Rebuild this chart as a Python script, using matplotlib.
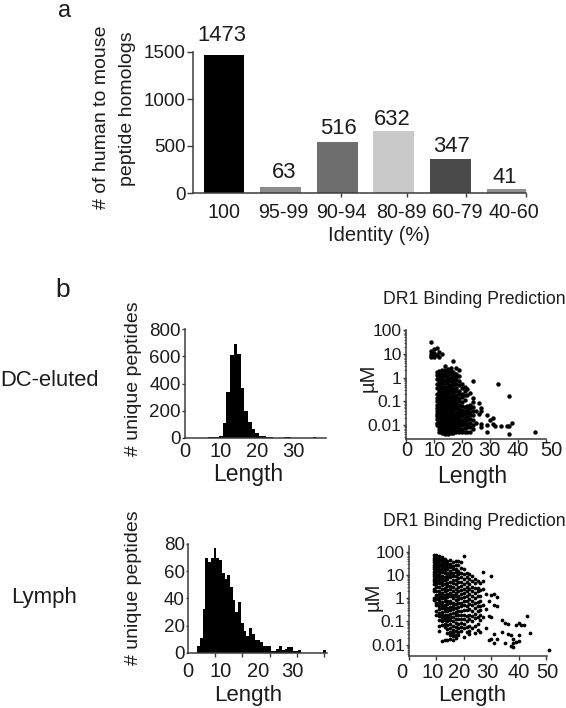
import matplotlib
matplotlib.use("Agg")
import matplotlib.pyplot as plt
from matplotlib.ticker import FixedLocator, FixedFormatter, NullFormatter

plt.rcParams['font.family'] = ['Liberation Sans', 'DejaVu Sans']

# ---------- panel a ----------
identity = ['100', '95-99', '90-94', '80-89', '60-79', '40-60']
homolog_labels = [1473, 63, 516, 632, 347, 41]
homolog_drawn = [1473, 66, 545, 660, 362, 43]
bar_colors = ['#000000', '#8c8c8c', '#6e6e6e', '#c9c9c9', '#4a4a4a', '#8f8f8f']

# ---------- panel b histograms ----------
dc_hist_len = [7, 8, 9, 10, 11, 12, 13, 14, 15, 16, 17, 18, 19, 20, 21, 22, 23, 24, 25, 26, 27, 28, 29, 30, 31, 36]
dc_hist_cnt = [4, 5, 6, 18, 108, 335, 610, 690, 620, 365, 195, 115, 65, 35, 18, 15, 8, 4, 2, 3, 2, 4, 4, 3, 1, 4]
ly_hist_len = [3, 4, 5, 6, 7, 8, 9, 10, 11, 12, 13, 14, 15, 16, 17, 18, 19, 20, 21, 22, 23, 24, 25, 26, 27, 28, 29, 30, 31, 32, 33, 34, 35, 36, 37, 38, 39, 40, 41, 50]
ly_hist_cnt = [0, 5, 11, 32, 70, 67, 70, 77, 70, 68, 59, 54, 57, 48, 39, 30, 37, 22, 16, 12, 18, 14, 9, 9, 8, 5, 5, 5, 1, 1, 3, 5, 2, 3, 4, 4, 1, 1, 2, 2]

# ---------- panel b scatter: log10(uM) by peptide length ----------
dc_len = list(range(9, 25))
dc_log = [
    [1.52, 1.13, 1.0, 0.92, 0.86],
    [1.22, 1.05, 0.95, 0.85],
    [1.25, 0.95, 0.22, 0.12, -0.05, -0.28, -0.42, -0.7, -0.86, -1.0, -1.15, -1.28, -1.4, -1.52, -1.63, -1.75, -1.9, -2.02],
    [1.1, 0.86, 0.28, 0.18, 0.05, -0.08, -0.2, -0.33, -0.45, -0.58, -0.7, -0.82, -0.95, -1.08, -1.2, -1.32, -1.45, -1.55, -1.68, -1.8, -1.92, -2.05, -2.18, -2.28],
    [1.0, 0.3, 0.16, 0.02, -0.12, -0.22, -0.35, -0.5, -0.62, -0.75, -0.88, -1.0, -1.12, -1.24, -1.36, -1.48, -1.6, -1.72, -1.84, -1.96, -2.08, -2.2, -2.33],
    [0.5, 0.3, 0.18, 0.05, -0.1, -0.22, -0.38, -0.5, -0.62, -0.72, -0.85, -0.98, -1.1, -1.22, -1.34, -1.46, -1.58, -1.7, -1.82, -1.94, -2.06, -2.18, -2.3, -2.38],
    [0.35, 0.22, 0.1, -0.02, -0.14, -0.26, -0.38, -0.5, -0.62, -0.74, -0.86, -0.98, -1.1, -1.22, -1.34, -1.46, -1.58, -1.7, -1.82, -1.94, -2.06, -2.18, -2.3, -2.38],
    [0.42, 0.28, 0.15, 0.0, -0.14, -0.3, -0.42, -0.55, -0.66, -0.8, -0.92, -1.04, -1.16, -1.28, -1.4, -1.52, -1.64, -1.76, -1.88, -2.0, -2.12, -2.24, -2.36],
    [0.68, 0.25, 0.1, -0.05, -0.18, -0.3, -0.48, -0.6, -0.72, -0.84, -0.96, -1.08, -1.2, -1.32, -1.44, -1.56, -1.68, -1.8, -1.92, -2.04, -2.16, -2.28, -2.36],
    [0.4, 0.16, 0.03, -0.12, -0.25, -0.45, -0.58, -0.72, -0.85, -0.98, -1.1, -1.22, -1.34, -1.48, -1.6, -1.72, -1.84, -1.96, -2.08, -2.2, -2.3],
    [0.3, 0.05, -0.15, -0.32, -0.55, -0.7, -0.85, -1.0, -1.15, -1.28, -1.42, -1.55, -1.68, -1.8, -1.93, -2.05, -2.18, -2.3],
    [-0.28, -0.45, -0.68, -0.82, -1.02, -1.2, -1.38, -1.5, -1.62, -1.78, -1.9, -2.02, -2.15, -2.28],
    [-0.4, -0.55, -0.75, -0.95, -1.25, -1.42, -1.55, -1.7, -1.85, -1.98, -2.12, -2.28],
    [-0.5, -0.72, -1.2, -1.36, -1.5, -1.66, -1.8, -1.95, -2.1, -2.28],
    [-0.65, -1.15, -1.3, -1.45, -1.6, -1.75, -1.92, -2.1, -2.28],
    [-0.13, -0.85, -1.05, -1.25, -1.42, -1.6, -1.78, -2.02, -2.18],
]
dc_sparse_len = [25, 25, 26, 26, 27, 27, 27, 27, 29, 29, 29, 30, 31, 31, 32, 33, 34, 36, 37, 37, 37, 38, 46]
dc_sparse_log = [-1.4, -1.9, -1.08, -1.55, -1.28, -1.42, -1.98, -2.1, -1.6, -2.0, -2.3, -1.8, -1.7, -1.95, -2.05, -0.25, -2.05, -2.05, -2.05, -2.4, -0.77, -1.9, -2.3]

ly_len = list(range(9, 27))
ly_log = [
    [1.85, 1.75, 1.65, 1.55, 1.45, 1.35, 1.25, 1.15, 1.05, 0.95, 0.85, 0.75, 0.62, 0.4, 0.32, 0.0, -0.08],
    [1.85, 1.76, 1.66, 1.56, 1.46, 1.36, 1.26, 1.16, 1.06, 0.96, 0.86, 0.74, 0.6, 0.5, 0.3, 0.15, 0.05, -0.05, -0.2, -0.3, -0.55, -0.72],
    [1.82, 1.72, 1.6, 1.48, 1.38, 1.28, 1.18, 1.05, 0.92, 0.8, 0.65, 0.48, 0.3, 0.18, 0.05, -0.08, -0.2, -0.35, -0.48, -0.62, -0.78, -0.95, -1.2, -1.4],
    [1.78, 1.7, 1.6, 1.5, 1.38, 1.25, 1.12, 0.98, 0.85, 0.7, 0.58, 0.42, 0.25, 0.12, 0.0, -0.15, -0.3, -0.42, -0.58, -0.72, -0.85, -1.0, -1.15, -1.85],
    [1.68, 1.58, 1.48, 1.36, 1.22, 1.08, 0.92, 0.78, 0.6, 0.45, 0.3, 0.15, 0.02, -0.1, -0.28, -0.4, -0.55, -0.7, -0.82, -0.95, -1.1, -1.25, -1.8],
    [1.6, 1.5, 1.38, 1.25, 1.1, 0.95, 0.82, 0.65, 0.52, 0.35, 0.18, 0.05, -0.12, -0.25, -0.42, -0.55, -0.7, -0.85, -1.0, -1.15, -1.32, -1.48, -1.82],
    [1.65, 1.5, 1.35, 1.2, 1.05, 0.9, 0.72, 0.55, 0.4, 0.22, 0.08, -0.1, -0.22, -0.38, -0.52, -0.68, -0.82, -0.95, -1.1, -1.3, -1.45, -1.6, -1.75],
    [1.55, 1.4, 1.25, 1.1, 0.95, 0.8, 0.65, 0.48, 0.32, 0.15, 0.0, -0.18, -0.32, -0.48, -0.65, -0.8, -1.0, -1.18, -1.35, -1.5, -1.62, -1.78],
    [1.62, 1.45, 1.28, 1.12, 0.95, 0.78, 0.6, 0.42, 0.25, 0.1, -0.08, -0.25, -0.4, -0.58, -0.72, -0.9, -1.08, -1.25, -1.42, -1.58, -1.7],
    [1.6, 1.42, 1.2, 1.05, 0.88, 0.7, 0.5, 0.32, 0.12, -0.05, -0.2, -0.38, -0.55, -0.72, -0.9, -1.1, -1.3, -1.45, -1.6],
    [1.55, 1.3, 1.1, 0.9, 0.72, 0.55, 0.35, 0.18, 0.02, -0.18, -0.35, -0.55, -0.7, -0.88, -1.05, -1.22, -1.42],
    [1.82, 1.25, 1.05, 0.85, 0.62, 0.42, 0.25, 0.05, -0.12, -0.3, -0.5, -0.72, -0.9, -1.1, -1.3, -1.68],
    [1.1, 0.9, 0.7, 0.5, 0.3, 0.1, -0.1, -0.32, -0.52, -0.78, -1.0, -1.25, -1.45],
    [1.05, 0.82, 0.62, 0.4, 0.18, -0.02, -0.25, -0.45, -0.7, -0.9, -1.2, -1.4, -1.55],
    [0.95, 0.75, 0.5, 0.32, 0.12, -0.1, -0.3, -0.55, -0.75, -0.98, -1.3],
    [0.85, 0.68, 0.45, 0.22, 0.02, -0.2, -0.42, -0.68, -0.85, -1.2, -1.5],
    [0.75, 0.45, 0.3, 0.08, -0.15, -0.35, -0.55, -0.8, -1.1, -1.35],
    [0.65, 0.35, 0.1, -0.12, -0.32, -0.52, -0.72, -0.95, -1.45],
]
ly_sparse_len = [27, 27, 27, 27, 27, 28, 28, 28, 29, 29, 29, 30, 30, 30, 30, 31, 31, 31, 31, 32, 32, 32, 34, 34, 35, 35, 36, 36, 37, 37, 38, 38, 38, 39, 39, 40, 40, 40, 41, 42, 43, 44, 51]
ly_sparse_log = [1.15, 0.75, 0.4, -0.3, -0.8, 0.2, -0.45, -1.3, -0.1, -0.75, -1.78, 0.95, 0.15, -0.8, -1.75, 0.2, -0.3, -1.55, -1.95, 0.05, -0.35, -1.75, -0.95, -1.45, -1.05, -1.95, -1.1, -1.55, -1.6, -2.05, -1.75, -2.1, -1.95, -1.15, -1.9, -1.05, -1.6, -1.85, -1.15, -1.15, -0.75, -1.5, -2.25]

FW, FH = 566, 708
fig = plt.figure(figsize=(FW / 100, FH / 100), dpi=100, facecolor='white')
INK = '#1c1c1c'


def px_axes(left, top, right, bottom):
    ax = fig.add_axes([left / FW, 1 - bottom / FH, (right - left) / FW, (bottom - top) / FH])
    for s in ('top', 'right'):
        ax.spines[s].set_visible(False)
    for s in ('left', 'bottom'):
        ax.spines[s].set_linewidth(1.1)
        ax.spines[s].set_color('#3c3c3c')
    ax.patch.set_alpha(0)
    return ax


def label(x, y, s, size=13.5, rot=0, ha='center'):
    fig.text(x / FW, 1 - y / FH, s, fontsize=size, rotation=rot, ha=ha, va='center', color=INK)


def ticks(ax, major, names, minor, size=13.5, pad=2):
    ax.xaxis.set_major_locator(FixedLocator(major))
    ax.xaxis.set_major_formatter(FixedFormatter(names))
    ax.xaxis.set_minor_locator(FixedLocator(minor))
    ax.tick_params(axis='x', which='major', length=0, pad=pad + 3, labelsize=size, labelcolor=INK)
    ax.tick_params(axis='x', which='minor', length=3.2, width=1.0, color='#3c3c3c')


# panel a
ax = px_axes(193, 45, 526, 193)
pos = list(range(len(identity)))
ax.bar(pos, homolog_drawn, width=0.72, color=bar_colors, edgecolor='none')
ax.set_xlim(-0.548, 5.336)
ax.set_ylim(0, 1500 * 148 / 141)
ax.spines['left'].set_bounds(0, 1500)
ax.set_yticks([0, 500, 1000, 1500])
ax.tick_params(axis='y', length=4.5, width=1.0, labelsize=13.5, pad=1, color='#3c3c3c', labelcolor=INK)
ticks(ax, [0, 1.04, 2.07, 3.13, 4.13, 5.12], identity, [0, 1.04, 2.06, 3.23, 4.28, 5.33], size=14.2, pad=4.5)
label_shift_x = [-0.03, 0.06, 0.02, -0.02, 0.02, -0.04]
label_gap_pt = [6, 2.5, 2, 0.5, 1.5, 0.5]
for p, h, t, dx, g in zip(pos, homolog_drawn, homolog_labels, label_shift_x, label_gap_pt):
    ax.annotate(str(t), (p + dx, h), xytext=(0, g), textcoords='offset points',
                ha='center', va='bottom', fontsize=15.8, color=INK)

label(101, 117, '# of human to mouse', 14, 90)
label(128, 109, 'peptide homologs', 14, 90)
label(379, 235, 'Identity (%)', 14.5)
label(65, 11, 'a', 17)
label(63, 290, 'b', 19)

# DC histogram
ax = px_axes(185, 329, 326, 438)
ax.bar(dc_hist_len, dc_hist_cnt, width=1.0, color='black', edgecolor='none')
ax.set_xlim(0, 39.2)
ax.set_ylim(0, 800)
ax.set_yticks([0, 200, 400, 600, 800])
ax.tick_params(axis='y', length=2.5, width=1.0, labelsize=13.5, pad=0.5, color='#3c3c3c', labelcolor=INK)
ticks(ax, [0, 10, 20, 30], ['0', '10', '20', '30'], [0, 10, 20, 30], size=14.5, pad=0)

# Lymph histogram
ax = px_axes(187.7, 544, 327, 652.7)
ax.bar(ly_hist_len, ly_hist_cnt, width=1.0, color='black', edgecolor='none')
ax.set_xlim(0, 51)
ax.set_ylim(0, 80)
ax.set_yticks([0, 20, 40, 60, 80])
ax.tick_params(axis='y', length=1.5, width=1.0, labelsize=13.5, pad=0.5, color='#3c3c3c', labelcolor=INK)
ticks(ax, [0, 12.2, 25.9, 38.4], ['0', '10', '20', '30'], [0, 10, 20, 30, 40, 50], size=14.5, pad=4)


def scatter(box, lens, logs, s_len, s_log, ylim, xmax, text_x, text_y_px, ms):
    ax = px_axes(*box)
    xs, ys = [], []
    for L, col in zip(lens, logs):
        xs += [L] * len(col)
        ys += [10 ** v for v in col]
    xs += s_len
    ys += [10 ** v for v in s_log]
    ax.plot(xs, ys, 'o', ms=ms, mfc='black', mec='none', clip_on=False)
    ax.set_yscale('log')
    ax.set_ylim(10 ** ylim[0], 10 ** ylim[1])
    ax.set_xlim(0, xmax)
    ax.yaxis.set_major_locator(FixedLocator([0.01, 0.1, 1, 10, 100]))
    ax.yaxis.set_major_formatter(FixedFormatter(['0.01', '0.1', '1', '10', '100']))
    ax.yaxis.set_minor_locator(FixedLocator(
        [m * 10.0 ** e for e in range(-3, 2) for m in (2, 3, 4, 5, 6, 7, 8, 9)]))
    ax.yaxis.set_minor_formatter(NullFormatter())
    ax.tick_params(axis='y', which='major', length=2.5, width=1.0, labelsize=12.6, pad=0.5,
                   color='#3c3c3c', labelcolor=INK)
    ax.tick_params(axis='y', which='minor', length=1.3, width=0.7, color='#555555')
    ax.xaxis.set_major_locator(FixedLocator([0, 10, 20, 30, 40, 50]))
    ax.xaxis.set_major_formatter(NullFormatter())
    ax.tick_params(axis='x', which='major', length=3.2, width=1.0, color='#3c3c3c')
    for x, name in zip(text_x, ['0', '10', '20', '30', '40', '50']):
        ax.annotate(name, (x, 0), xycoords=('data', 'axes fraction'),
                    xytext=(x, text_y_px), textcoords=('data', 'offset pixels'),
                    ha='center', va='center', fontsize=14.5, color=INK, annotation_clip=False)
    return ax


scatter((405.7, 330, 545.7, 438.7), dc_len, dc_log, dc_sparse_len, dc_sparse_log,
        (-2.58, 2.01), 50, [0.5, 10.3, 20, 30, 40, 52.2], -12, 3.2)
scatter((409, 546, 547, 656), ly_len, ly_log, ly_sparse_len, ly_sparse_log,
        (-2.49, 2.26), 50.3, [-2.5, 8.5, 18.3, 28.5, 40, 50.3], -16, 2.7)

label(49, 381, 'DC-eluted', 15.8)
label(44, 597, 'Lymph', 16)
label(474, 300, 'DR1 Binding Prediction', 12.7)
label(474, 522, 'DR1 Binding Prediction', 12.7)
label(133, 379, '# unique peptides', 14, 90)
label(133, 588, '# unique peptides', 14, 90)
label(248, 475, 'Length', 16.5)
label(248, 695, 'Length', 16)
label(472, 476, 'Length', 16.5)
label(472, 695, 'Length', 16)
label(368, 378, 'µM', 14.5, 90)
label(373, 597, 'µM', 14.5, 90)

fig.savefig('out.png', dpi=100, facecolor='white')
